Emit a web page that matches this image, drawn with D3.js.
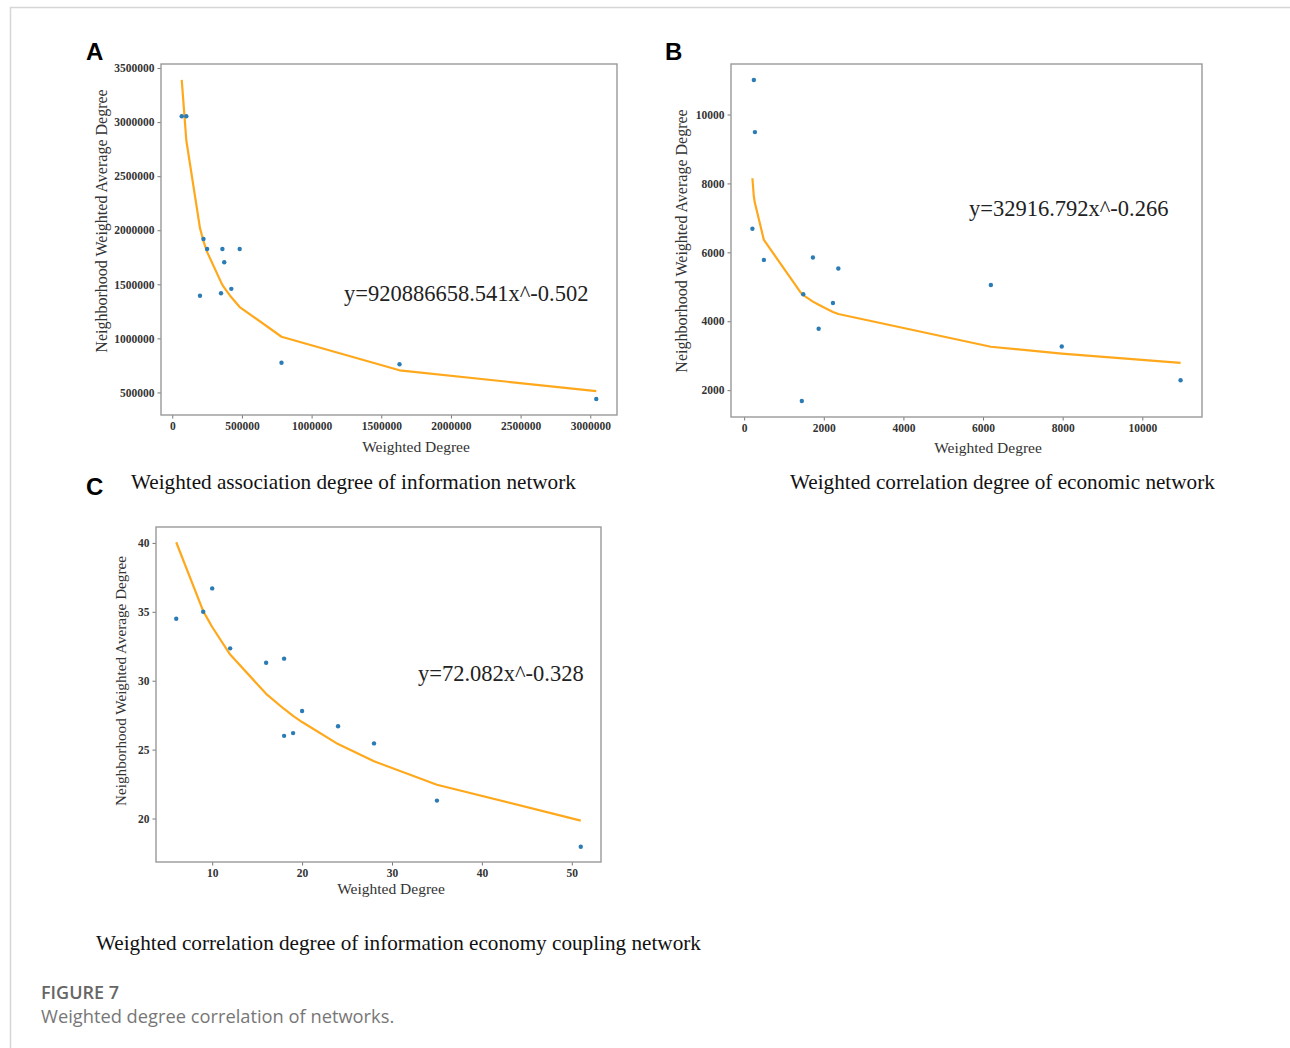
<!DOCTYPE html>
<html>
<head>
<meta charset="utf-8">
<script src="https://cdn.jsdelivr.net/npm/d3@7"></script>
<style>
  body { margin: 0; background: #fff; }
  svg { display: block; }
</style>
</head>
<body>
<div id="root"></div>
<script>
const WIDTH = 1290;
const HEIGHT = 1048;

// panel A: information network
const aX = [68000, 101000, 199000, 224000, 250000, 350000, 360000, 373000, 424000, 484000, 784000, 1631000, 3043000];
const aY = [3055000, 3055000, 1394000, 1919000, 1827000, 1418000, 1827000, 1704000, 1458000, 1827000, 774000, 761000, 439000];
const aFit = [3390000, 2830000, 2020000, 1900000, 1800000, 1520000, 1495000, 1470000, 1380000, 1290000, 1015000, 705000, 512000];
const aXTicks = [0, 500000, 1000000, 1500000, 2000000, 2500000, 3000000];
const aYTicks = [500000, 1000000, 1500000, 2000000, 2500000, 3000000, 3500000];

// panel B: economic network
const bX = [207, 243, 270, 495, 1448, 1484, 1727, 1871, 2230, 2365, 6196, 7977, 10962];
const bY = [6683, 11000, 9490, 5781, 1687, 4782, 5849, 3783, 4530, 5529, 5053, 3269, 2289];
const bFit = [8150, 7620, 7430, 6360, 4790, 4760, 4570, 4480, 4270, 4210, 3260, 3060, 2790];
const bXTicks = [0, 2000, 4000, 6000, 8000, 10000];
const bYTicks = [2000, 4000, 6000, 8000, 10000];

// panel C: information economy coupling network
const cX = [6, 9, 10, 12, 16, 18, 18, 19, 20, 24, 28, 35, 51];
const cY = [34.5, 35.0, 36.7, 32.35, 31.3, 31.6, 26.0, 26.2, 27.8, 26.7, 25.45, 21.3, 17.95];
const cFit = [40.05, 35.05, 33.9, 31.9, 29.05, 27.95, 27.95, 27.45, 27.0, 25.4, 24.15, 22.45, 19.85];
const cXTicks = [10, 20, 30, 40, 50];
const cYTicks = [20, 25, 30, 35, 40];

const equations = ["y=920886658.541x^-0.502", "y=32916.792x^-0.266", "y=72.082x^-0.328"];
const captions = [
    "Weighted association degree of information network",
    "Weighted correlation degree of economic network",
    "Weighted correlation degree of information economy coupling network"
];

const SERIF = "'Liberation Serif', 'Times New Roman', serif";
const SANS = "'Liberation Sans', Arial, sans-serif";

const panels = [
    {letter: "A", xs: aX, ys: aY, fit: aFit, xTicks: aXTicks, yTicks: aYTicks,
     box: {left: 161, top: 64, right: 617, bottom: 415},
     letterPos: [86, 60], yLabel: [101, 221], xLabel: [416, 452], yLabelSize: 16,
     eq: [344, 301], cap: [131, 489]},
    {letter: "B", xs: bX, ys: bY, fit: bFit, xTicks: bXTicks, yTicks: bYTicks,
     box: {left: 731, top: 64, right: 1202, bottom: 417},
     letterPos: [665, 60], yLabel: [681, 241], xLabel: [988, 453], yLabelSize: 16,
     eq: [969, 216], cap: [790, 489]},
    {letter: "C", xs: cX, ys: cY, fit: cFit, xTicks: cXTicks, yTicks: cYTicks,
     box: {left: 156, top: 527, right: 601, bottom: 862},
     letterPos: [86, 495], yLabel: [121, 681], xLabel: [391, 894], yLabelSize: 15.2,
     eq: [418, 681], cap: [96, 950]}
];

const svg = d3.select("#root")
    .append("svg")
    .attr("width", WIDTH)
    .attr("height", HEIGHT);

// page frame
svg.append("line")
    .attr("x1", 10).attr("x2", WIDTH).attr("y1", 7.5).attr("y2", 7.5)
    .attr("stroke", "#d6d6d6").attr("stroke-width", 1.5);
svg.append("line")
    .attr("x1", 10.5).attr("x2", 10.5).attr("y1", 7).attr("y2", HEIGHT)
    .attr("stroke", "#d6d6d6").attr("stroke-width", 1.5);

// matplotlib style 5% padding
function padded(values) {
    const [lo, hi] = d3.extent(values);
    const m = (hi - lo) * 0.05;
    return [lo - m, hi + m];
}

panels.forEach((p, i) => {
    const b = p.box;
    const x = d3.scaleLinear()
        .domain(padded(p.xs))
        .range([b.left, b.right]);
    const y = d3.scaleLinear()
        .domain(padded(p.ys.concat(p.fit)))
        .range([b.bottom, b.top]);

    const g = svg.append("g");

    const xAxis = d3.axisBottom(x)
        .tickValues(p.xTicks)
        .tickFormat(d3.format("d"))
        .tickSize(3.5)
        .tickPadding(3);
    const yAxis = d3.axisLeft(y)
        .tickValues(p.yTicks)
        .tickFormat(d3.format("d"))
        .tickSize(3.5)
        .tickPadding(3);

    const gx = g.append("g")
        .attr("transform", `translate(0, ${b.bottom})`)
        .call(xAxis);
    const gy = g.append("g")
        .attr("transform", `translate(${b.left}, 0)`)
        .call(yAxis);

    [gx, gy].forEach(ax => {
        ax.select(".domain").remove();
        ax.selectAll(".tick line").attr("stroke", "#777");
        ax.selectAll(".tick text")
            .attr("fill", "#333")
            .style("font-family", SERIF)
            .style("font-size", "11.5px")
            .style("font-weight", "bold");
    });

    // fitted power curve
    const line = d3.line()
        .x((d, k) => x(p.xs[k]))
        .y(d => y(d));
    g.append("path")
        .datum(p.fit)
        .attr("d", line)
        .attr("fill", "none")
        .attr("stroke", "#ffa81c")
        .attr("stroke-width", 2.2)
        .attr("stroke-linejoin", "round");

    // points
    g.selectAll(".point")
        .data(p.ys)
        .enter()
        .append("circle")
        .attr("class", "point")
        .attr("cx", (d, k) => x(p.xs[k]))
        .attr("cy", d => y(d))
        .attr("r", 2.2)
        .attr("fill", "#2b7bb5");

    // plot frame
    g.append("rect")
        .attr("x", b.left).attr("y", b.top)
        .attr("width", b.right - b.left).attr("height", b.bottom - b.top)
        .attr("fill", "none")
        .attr("stroke", "#999")
        .attr("stroke-width", 1.4);

    g.append("text")
        .attr("x", p.xLabel[0]).attr("y", p.xLabel[1])
        .attr("text-anchor", "middle")
        .attr("fill", "#333")
        .style("font-family", SERIF)
        .style("font-size", "15.5px")
        .text("Weighted Degree");

    g.append("text")
        .attr("transform", `translate(${p.yLabel[0]}, ${p.yLabel[1]}) rotate(-90)`)
        .attr("dy", "0.35em")
        .attr("text-anchor", "middle")
        .attr("fill", "#333")
        .style("font-family", SERIF)
        .style("font-size", p.yLabelSize + "px")
        .text("Neighborhood Weighted Average Degree");

    g.append("text")
        .attr("x", p.eq[0]).attr("y", p.eq[1])
        .attr("fill", "#222")
        .style("font-family", SERIF)
        .style("font-size", "22.5px")
        .text(equations[i]);

    g.append("text")
        .attr("x", p.cap[0]).attr("y", p.cap[1])
        .attr("fill", "#111")
        .style("font-family", SERIF)
        .style("font-size", "21.2px")
        .text(captions[i]);

    svg.append("text")
        .attr("x", p.letterPos[0]).attr("y", p.letterPos[1])
        .attr("fill", "#000")
        .style("font-family", SANS)
        .style("font-weight", "bold")
        .style("font-size", "24px")
        .text(p.letter);
});

svg.append("text")
    .attr("x", 41).attr("y", 999)
    .attr("fill", "#666")
    .style("font-family", "'Open Sans', sans-serif")
    .style("font-size", "18px")
    .style("font-weight", "600")
    .text("FIGURE 7");

svg.append("text")
    .attr("x", 41).attr("y", 1023)
    .attr("fill", "#777")
    .style("font-family", "'Open Sans', sans-serif")
    .style("font-size", "18.3px")
    .text("Weighted degree correlation of networks.");
</script>
</body>
</html>
